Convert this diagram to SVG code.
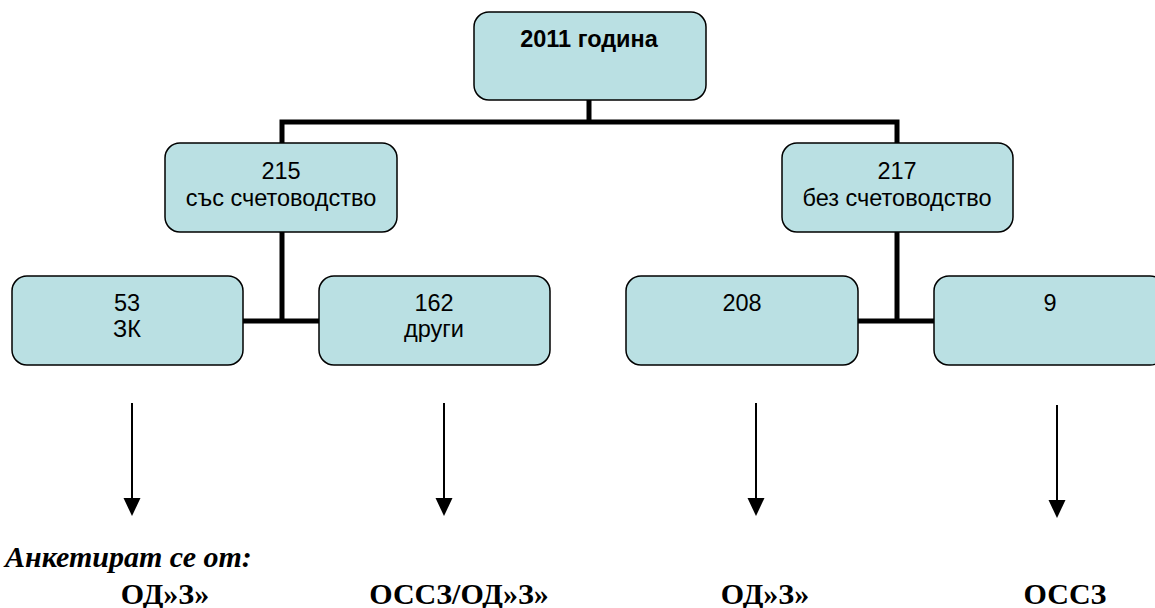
<svg xmlns="http://www.w3.org/2000/svg" width="1155" height="608" viewBox="0 0 1155 608">
<style>
.box{fill:#BAE0E3;stroke:#000;stroke-width:1.5}
.t{font-family:"Liberation Sans",Arial,sans-serif;font-size:23.5px;fill:#000;text-anchor:middle}
.tb{font-weight:bold}
.conn{stroke:#000;stroke-width:5;fill:none}
.arr{stroke:#000;stroke-width:2;fill:none}
.lbl{font-family:"Liberation Serif","Times New Roman",serif;font-weight:bold;font-size:30px;fill:#000}
</style>
<g id="connectors">
<polyline class="conn" points="282,143 282,122 897,122 897,143"/>
<line class="conn" x1="589" y1="100" x2="589" y2="122"/>
<line class="conn" x1="282" y1="232" x2="282" y2="321"/>
<line class="conn" x1="243" y1="321" x2="319" y2="321"/>
<line class="conn" x1="897" y1="232" x2="897" y2="321"/>
<line class="conn" x1="858" y1="321" x2="934" y2="321"/>
<g id="arrows">
<line class="arr" x1="132" y1="403" x2="132" y2="499"/>
<polygon points="123.5,498 140.5,498 132,516" fill="#000"/>
<line class="arr" x1="444" y1="403" x2="444" y2="499"/>
<polygon points="435.5,498 452.5,498 444,516" fill="#000"/>
<line class="arr" x1="756" y1="403" x2="756" y2="499"/>
<polygon points="747.5,498 764.5,498 756,516" fill="#000"/>
<line class="arr" x1="1057" y1="405" x2="1057" y2="501"/>
<polygon points="1048.5,500 1065.5,500 1057,518" fill="#000"/>
</g>
</g>
<g id="n2011">
<rect class="box" x="474" y="12" width="232" height="88" rx="15"/>
<text class="t tb" x="589" y="47">2011 година</text>
</g>
<g id="n215">
<rect class="box" x="165" y="143" width="232" height="89" rx="15"/>
<text class="t" x="281" y="179">215</text>
<text class="t" x="281" y="206">със счетоводство</text>
</g>
<g id="n217">
<rect class="box" x="782" y="143" width="231" height="89" rx="15"/>
<text class="t" x="897" y="179">217</text>
<text class="t" x="897" y="206">без счетоводство</text>
</g>
<g id="n53">
<rect class="box" x="12" y="276" width="231" height="89" rx="15"/>
<text class="t" x="127" y="311">53</text>
<text class="t" x="127" y="337">ЗК</text>
</g>
<g id="n162">
<rect class="box" x="319" y="276" width="231" height="89" rx="15"/>
<text class="t" x="434" y="311">162</text>
<text class="t" x="434" y="337">други</text>
</g>
<g id="n208">
<rect class="box" x="626" y="276" width="232" height="89" rx="15"/>
<text class="t" x="742" y="311">208</text>
</g>
<g id="n9">
<rect class="box" x="934" y="276" width="231" height="89" rx="15"/>
<text class="t" x="1050" y="311">9</text>
</g>
<g id="labels">
<text class="lbl" x="5" y="567" font-style="italic">Анкетират се от:</text>
<text class="lbl" x="165" y="604" text-anchor="middle">ОД»З»</text>
<text class="lbl" x="459" y="604" text-anchor="middle">ОССЗ/ОД»З»</text>
<text class="lbl" x="765" y="604" text-anchor="middle">ОД»З»</text>
<text class="lbl" x="1065" y="604" text-anchor="middle">ОССЗ</text>
</g>
</svg>
